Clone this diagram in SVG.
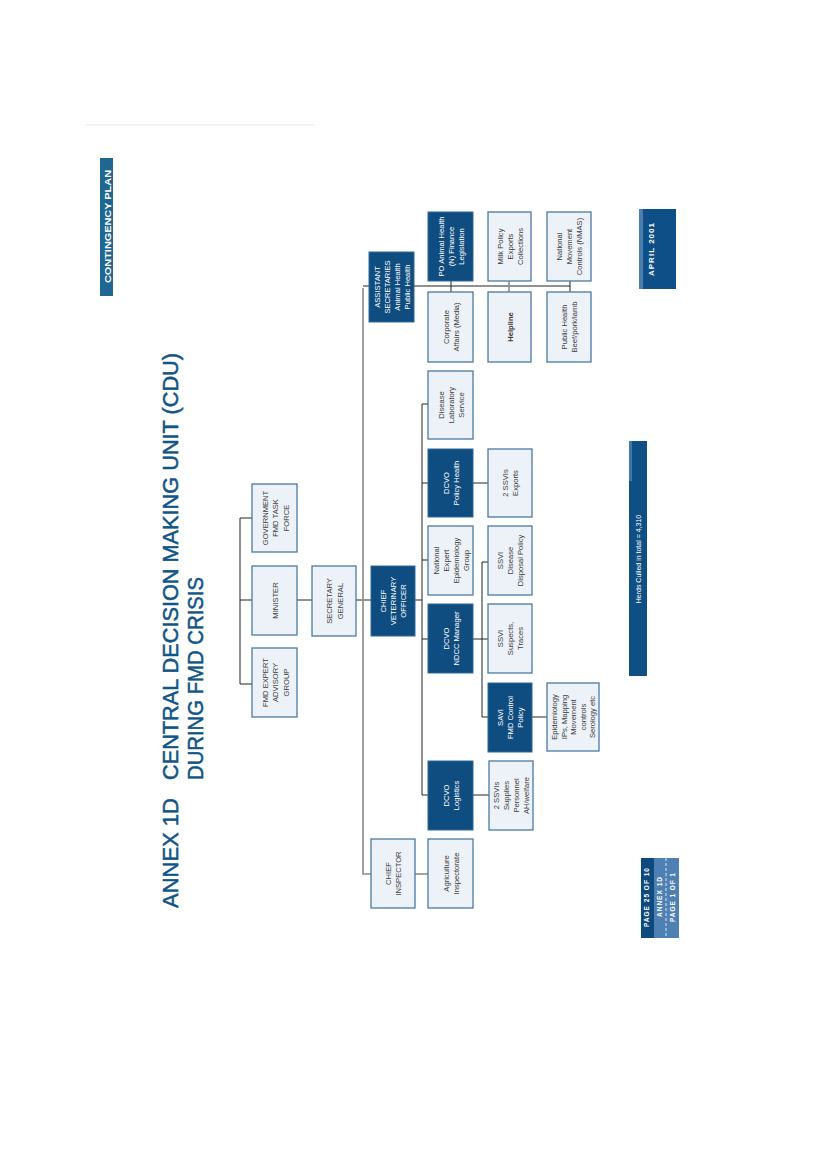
<svg xmlns="http://www.w3.org/2000/svg" width="826" height="1169" viewBox="0 0 826 1169">
<style>
.lb{fill:#edf2f8;stroke:#4a7aa3;stroke-width:1.3}
.db{fill:#0f4c80;stroke:#2f6a98;stroke-width:1}
.t{font-family:"Liberation Sans Narrow","Liberation Sans",Arial,sans-serif;font-size:7.6px;text-anchor:middle}
.lt{fill:#3c3c3c}
.dt{fill:#ffffff}
.ttl{font-family:"Liberation Sans",Arial,sans-serif;font-size:22px;fill:#115486;stroke:#115486;stroke-width:0.5}
.tab{font-family:"Liberation Sans",Arial,sans-serif;font-weight:bold;fill:#ffffff}
.tabn{font-family:"Liberation Sans",Arial,sans-serif;font-weight:normal;fill:#ffffff}
.c{fill:none;stroke:#222;stroke-width:1}
.cg{fill:none;stroke:#8a8a8a;stroke-width:1.6}
</style>
<rect width="826" height="1169" fill="#ffffff"/>
<line x1="85" y1="125" x2="315" y2="125" stroke="#e6e6e6" stroke-width="1"/>

<g id="header">
<rect x="100" y="158" width="13" height="138" fill="#1f6792"/>
<text class="tab" font-size="9.5" transform="translate(111,283) rotate(-90)" textLength="113" lengthAdjust="spacingAndGlyphs">CONTINGENCY PLAN</text>
</g>

<g id="title">
<text class="ttl" transform="translate(178,908) rotate(-90)" textLength="110" lengthAdjust="spacingAndGlyphs">ANNEX 1D</text>
<text class="ttl" transform="translate(178,780) rotate(-90)" textLength="427" lengthAdjust="spacingAndGlyphs">CENTRAL DECISION MAKING UNIT (CDU)</text>
<text class="ttl" transform="translate(203,780) rotate(-90)" textLength="203" lengthAdjust="spacingAndGlyphs">DURING FMD CRISIS</text>
</g>

<g id="connectors">
<path class="c" d="M252 518H240V684H252M240 600H252"/>
<path class="c" d="M297 600H312M356 600H371"/>
<path class="cg" d="M363 288V874H371"/>
<path class="c" d="M363 286H570"/>
<path class="c" d="M451 281V292M570 281V292"/>
<path class="cg" d="M509 281V292"/>
<path class="cg" d="M415 874H429" stroke-width="2.5"/>
<path class="c" d="M415 600H422M422 404V795M422 404H428M422 483H428M422 560H428M422 639H428M422 795H429"/>
<path class="c" d="M473 483H488" stroke-width="2"/>
<path class="c" d="M473 639H488M482 562V717M482 562H488M482 717H488"/>
<path class="c" d="M532 717H547"/>
<path class="c" d="M473 795H489"/>
</g>

<g id="gov-task-force">
<rect class="lb" x="252" y="484" width="45" height="68"/>
<text class="t lt" transform="translate(274.5,518) rotate(-90)"><tspan x="0" y="-7">GOVERNMENT</tspan><tspan x="0" y="3.5">FMD TASK</tspan><tspan x="0" y="14">FORCE</tspan></text>
</g>
<g id="minister">
<rect class="lb" x="252" y="566" width="45" height="69"/>
<text class="t lt" transform="translate(274.5,600.5) rotate(-90)"><tspan x="0" y="3">MINISTER</tspan></text>
</g>
<g id="fmd-expert">
<rect class="lb" x="252" y="648" width="45" height="69"/>
<text class="t lt" transform="translate(274.5,682.5) rotate(-90)"><tspan x="0" y="-7">FMD EXPERT</tspan><tspan x="0" y="3.5">ADVISORY</tspan><tspan x="0" y="14">GROUP</tspan></text>
</g>
<g id="secretary-general">
<rect class="lb" x="312" y="566" width="44" height="70"/>
<text class="t lt" transform="translate(334,601) rotate(-90)"><tspan x="0" y="-2">SECRETARY</tspan><tspan x="0" y="9">GENERAL</tspan></text>
</g>
<g id="cvo">
<rect class="db" x="371" y="566" width="44" height="70"/>
<text class="t dt" transform="translate(393,601) rotate(-90)"><tspan x="0" y="-7">CHIEF</tspan><tspan x="0" y="3">VETERINARY</tspan><tspan x="0" y="13">OFFICER</tspan></text>
</g>
<g id="assistant-secretaries">
<rect class="db" x="369" y="252" width="45" height="70"/>
<text class="t dt" transform="translate(391.5,287) rotate(-90)"><tspan x="0" y="-12">ASSISTANT</tspan><tspan x="0" y="-2">SECRETARIES</tspan><tspan x="0" y="8">Animal Health</tspan><tspan x="0" y="18">Public Health</tspan></text>
</g>
<g id="chief-inspector">
<rect class="lb" x="371" y="839" width="44" height="69"/>
<text class="t lt" transform="translate(393,873.5) rotate(-90)"><tspan x="0" y="-2">CHIEF</tspan><tspan x="0" y="8">INSPECTOR</tspan></text>
</g>

<g id="po-animal-health">
<rect class="db" x="428" y="212" width="45" height="69"/>
<text class="t dt" transform="translate(450.5,246.5) rotate(-90)"><tspan x="0" y="-7">PO Animal Health</tspan><tspan x="0" y="3">(N) Finance</tspan><tspan x="0" y="13">Legislation</tspan></text>
</g>
<g id="corporate-affairs">
<rect class="lb" x="428" y="292" width="45" height="70"/>
<text class="t lt" transform="translate(450.5,327) rotate(-90)"><tspan x="0" y="-2">Corporate</tspan><tspan x="0" y="8">Affairs (Media)</tspan></text>
</g>
<g id="milk-policy">
<rect class="lb" x="488" y="212" width="43" height="69"/>
<text class="t lt" transform="translate(509.5,246.5) rotate(-90)"><tspan x="0" y="-7">Milk Policy</tspan><tspan x="0" y="3">Exports</tspan><tspan x="0" y="13">Collections</tspan></text>
</g>
<g id="helpline">
<rect class="lb" x="488" y="292" width="43" height="70"/>
<text class="t lt" transform="translate(509.5,327) rotate(-90)" font-weight="bold"><tspan x="0" y="3">Helpline</tspan></text>
</g>
<g id="national-movement">
<rect class="lb" x="547" y="212" width="44" height="69"/>
<text class="t lt" transform="translate(569,246.5) rotate(-90)"><tspan x="0" y="-7">National</tspan><tspan x="0" y="3">Movement</tspan><tspan x="0" y="13">Controls (NMAS)</tspan></text>
</g>
<g id="public-health">
<rect class="lb" x="547" y="292" width="44" height="70"/>
<text class="t lt" transform="translate(569,327) rotate(-90)"><tspan x="0" y="-2">Public Health</tspan><tspan x="0" y="8">Beef/pork/lamb</tspan></text>
</g>

<g id="disease-lab">
<rect class="lb" x="428" y="371" width="45" height="68"/>
<text class="t lt" transform="translate(450.5,405) rotate(-90)"><tspan x="0" y="-7">Disease</tspan><tspan x="0" y="3">Laboratory</tspan><tspan x="0" y="13">Service</tspan></text>
</g>
<g id="dcvo-policy-health">
<rect class="db" x="428" y="449" width="45" height="68"/>
<text class="t dt" transform="translate(450.5,483) rotate(-90)"><tspan x="0" y="-2">DCVO</tspan><tspan x="0" y="8">Policy Health</tspan></text>
</g>
<g id="ssvis-exports">
<rect class="lb" x="488" y="449" width="44" height="68"/>
<text class="t lt" transform="translate(510,483) rotate(-90)"><tspan x="0" y="-2">2 SSVIs</tspan><tspan x="0" y="8">Exports</tspan></text>
</g>
<g id="national-expert-epi">
<rect class="lb" x="428" y="526" width="45" height="69"/>
<text class="t lt" transform="translate(450.5,560.5) rotate(-90)"><tspan x="0" y="-12">National</tspan><tspan x="0" y="-2">Expert</tspan><tspan x="0" y="8">Epidemiology</tspan><tspan x="0" y="18">Group</tspan></text>
</g>
<g id="ssvi-disposal">
<rect class="lb" x="488" y="526" width="44" height="69"/>
<text class="t lt" transform="translate(510,560.5) rotate(-90)"><tspan x="0" y="-7">SSVI</tspan><tspan x="0" y="3">Disease</tspan><tspan x="0" y="13">Disposal Policy</tspan></text>
</g>
<g id="dcvo-ndcc">
<rect class="db" x="428" y="604" width="45" height="69"/>
<text class="t dt" transform="translate(450.5,638.5) rotate(-90)"><tspan x="0" y="-2">DCVO</tspan><tspan x="0" y="8">NDCC Manager</tspan></text>
</g>
<g id="ssvi-suspects">
<rect class="lb" x="488" y="604" width="44" height="69"/>
<text class="t lt" transform="translate(510,638.5) rotate(-90)"><tspan x="0" y="-7">SSVI</tspan><tspan x="0" y="3">Suspects,</tspan><tspan x="0" y="13">Traces</tspan></text>
</g>
<g id="savi-fmd-control">
<rect class="db" x="488" y="683" width="44" height="69"/>
<text class="t dt" transform="translate(510,717.5) rotate(-90)"><tspan x="0" y="-7">SAVI</tspan><tspan x="0" y="3">FMD Control</tspan><tspan x="0" y="13">Policy</tspan></text>
</g>
<g id="epidemiology">
<rect class="lb" x="547" y="683" width="52" height="68"/>
<text class="t lt" transform="translate(573,717) rotate(-90)"><tspan x="0" y="-16">Epidemiology</tspan><tspan x="0" y="-6.5">IPs, Mapping</tspan><tspan x="0" y="3">Movement</tspan><tspan x="0" y="12.5">controls</tspan><tspan x="0" y="22">Serology etc</tspan></text>
</g>
<g id="dcvo-logistics">
<rect class="db" x="428" y="761" width="45" height="69"/>
<text class="t dt" transform="translate(450.5,795.5) rotate(-90)"><tspan x="0" y="-2">DCVO</tspan><tspan x="0" y="8">Logistics</tspan></text>
</g>
<g id="ssvis-supplies">
<rect class="lb" x="489" y="761" width="44" height="69"/>
<text class="t lt" transform="translate(511,795.5) rotate(-90)"><tspan x="0" y="-12">2 SSVIs</tspan><tspan x="0" y="-2">Supplies</tspan><tspan x="0" y="8">Personnel</tspan><tspan x="0" y="18">AH/welfare</tspan></text>
</g>
<g id="agriculture-inspectorate">
<rect class="lb" x="428" y="839" width="45" height="69"/>
<text class="t lt" transform="translate(450.5,873.5) rotate(-90)"><tspan x="0" y="-2">Agriculture</tspan><tspan x="0" y="8">Inspectorate</tspan></text>
</g>

<g id="total-bar">
<rect x="629" y="441" width="18" height="235" fill="#0f4f84"/>
<rect x="629" y="441" width="3" height="40" fill="#3f78a8"/>
<text class="tabn" font-size="7" transform="translate(641,559) rotate(-90)" text-anchor="middle">Herds Culled in total = 4,310</text>
</g>

<g id="date">
<rect x="639" y="209" width="37" height="80" fill="#0d4f86"/>
<rect x="639" y="209" width="4" height="80" fill="#4a7fb0"/>
<text class="tab" font-size="8" transform="translate(654,276) rotate(-90)" textLength="53" lengthAdjust="spacing">APRIL 2001</text>
</g>

<g id="page-tabs">
<rect x="641" y="858" width="13" height="80" fill="#0d4a7d"/>
<rect x="654" y="858" width="25" height="80" fill="#4f80b3"/>
<line x1="666" y1="858" x2="666" y2="938" stroke="#ffffff" stroke-width="0.8" stroke-dasharray="3,2"/>
<text class="tab" font-size="6.5" transform="translate(649,927) rotate(-90)" textLength="59" lengthAdjust="spacing">PAGE 25 OF 10</text>
<text class="tab" font-size="6.5" transform="translate(662,917) rotate(-90)" textLength="40" lengthAdjust="spacing">ANNEX 1D</text>
<text class="tab" font-size="6.5" transform="translate(675,922) rotate(-90)" textLength="49" lengthAdjust="spacing">PAGE 1 OF 1</text>
</g>
</svg>
